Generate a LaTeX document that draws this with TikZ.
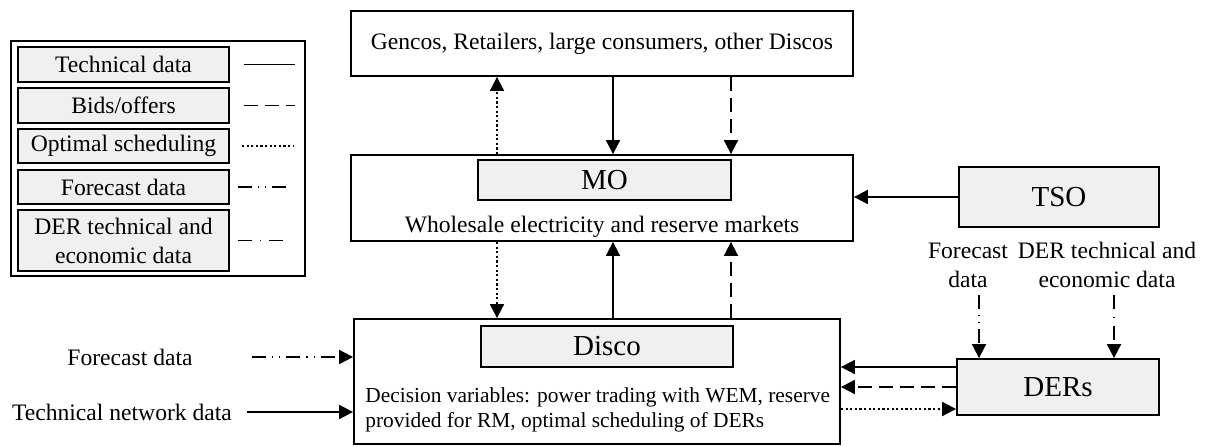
\documentclass[tikz,border=0pt]{standalone}
\usepackage{fontspec}
\setmainfont{Liberation Serif}
\usetikzlibrary{arrows.meta}
\definecolor{boxgrey}{RGB}{240,240,240}
\newcommand{\mainsize}{\fontsize{11.8}{14.5}\selectfont}
\newcommand{\bigsize}{\fontsize{14.5}{16}\selectfont}
\tikzset{
  box/.style={draw, line width=0.9pt, inner sep=0pt, anchor=center, font=\mainsize},
  greybox/.style={box, fill=boxgrey},
  lbl/.style={inner sep=0pt, font=\mainsize, align=center},
  arr/.style={line width=0.9pt, -{Triangle[length=7pt, width=7pt]}},
  techline/.style={line width=0.9pt},
  bidline/.style={line width=0.9pt, dash pattern=on 7pt off 3.5pt},
  optline/.style={line width=0.9pt, dash pattern=on 1.1pt off 1.2pt},
  fcline/.style={line width=0.9pt, dash pattern=on 7pt off 3pt on 0.6pt off 3pt on 0.6pt off 3pt},
  derline/.style={line width=0.9pt, dash pattern=on 7pt off 4pt on 0.6pt off 4pt},
}

\begin{document}
\begin{tikzpicture}[x=0.5pt, y=-0.5pt]
    \useasboundingbox (0,0) rectangle (1211,446);
    % legend
    \draw[line width=0.9pt] (11,41) rectangle (305,276);
    \node[greybox, minimum width=105.5pt, minimum height=17.5pt] (legtech) at (123.5,64.5) {Technical data};
    \node[greybox, minimum width=105.5pt, minimum height=17.5pt] (legbid) at (123.5,105.5) {Bids/offers};
    \node[greybox, minimum width=105.5pt, minimum height=17pt] (legopt) at (123.5,146) {Optimal scheduling};
    \node[greybox, minimum width=105.5pt, minimum height=17pt] (legfc) at (123.5,187) {Forecast data};
    \node[greybox, minimum width=105.5pt, minimum height=30.5pt, align=center] (legder) at (123.5,240.5) {DER technical and\\economic data};
    \draw[techline] (244,64.5) -- (295,64.5);
    \draw[bidline] (244,105.5) -- (295,105.5);
    \draw[optline] (242,146) -- (293,146);
    \draw[fcline] (238,187) -- (292,187);
    \draw[derline] (238,240.5) -- (283,240.5);

    % market side
    \node[box, minimum width=251pt, minimum height=32.5pt] (gen) at (602,43.5) {Gencos, Retailers, large consumers, other Discos};
    \node[box, minimum width=251pt, minimum height=43pt] (mo) at (602,198) {};
    \node[greybox, minimum width=126.5pt, minimum height=20pt, font=\bigsize] (mocore) at (604.5,180) {MO};
    \node[lbl] (wem) at (602,227) {Wholesale electricity and reserve markets};
    \node[greybox, minimum width=100pt, minimum height=30pt, font=\bigsize] (tso) at (1059,197) {TSO};

    % disco side
    \node[box, minimum width=243pt, minimum height=62.5pt] (disco) at (597,381.5) {};
    \node[greybox, minimum width=126pt, minimum height=20.5pt, font=\bigsize] (discocore) at (607,346.5) {Disco};
    \node[lbl, anchor=west, align=left, font=\fontsize{10.7}{12.2}\selectfont] (decvar) at (365,410) {Decision variables: power trading with WEM, reserve\\provided for RM, optimal scheduling of DERs};
    \node[greybox, minimum width=101pt, minimum height=28pt, font=\bigsize] (ders) at (1058,387) {DERs};

    % inputs
    \node[lbl] (fcleft) at (130,357) {Forecast data};
    \node[lbl] (netdata) at (122,412) {Technical network data};
    \node[lbl] (fcder) at (968,265) {Forecast\\data};
    \node[lbl] (derdata) at (1107,265) {DER technical and\\economic data};

    \coordinate (xopt) at (497,0);
    \coordinate (xtech) at (613,0);
    \coordinate (xbid) at (731,0);
    \coordinate (fcstart) at (252,357);
    \coordinate (netstart) at (247,412);
    \coordinate (fctop) at (979,295);
    \coordinate (dertop) at (1114,295);

    % MO <-> market players
    \draw[arr, optline] (mo.north -| xopt) -- (gen.south -| xopt);
    \draw[arr, techline] (gen.south -| xtech) -- (mo.north -| xtech);
    \draw[arr, bidline] (gen.south -| xbid) -- (mo.north -| xbid);
    \draw[arr, techline] (tso.west) -- (tso.west -| mo.east);

    % MO <-> Disco
    \draw[arr, optline] (mo.south -| xopt) -- (disco.north -| xopt);
    \draw[arr, techline] (disco.north -| xtech) -- (mo.south -| xtech);
    \draw[arr, bidline] (disco.north -| xbid) -- (mo.south -| xbid);

    % Disco <-> DERs
    \draw[arr, techline] ([yshift=10pt]ders.west) -- ([yshift=10pt]ders.west -| disco.east);
    \draw[arr, bidline] (ders.west) -- (ders.west -| disco.east);
    \draw[arr, optline] ([yshift=-11pt]ders.west -| disco.east) -- ([yshift=-11pt]ders.west);

    % external data
    \draw[arr, fcline] (fcstart) -- (fcstart -| disco.west);
    \draw[arr, techline] (netstart) -- (netstart -| disco.west);
    \draw[arr, fcline] (fctop) -- (fctop |- ders.north);
    \draw[arr, derline] (dertop) -- (dertop |- ders.north);
\end{tikzpicture}
\end{document}
